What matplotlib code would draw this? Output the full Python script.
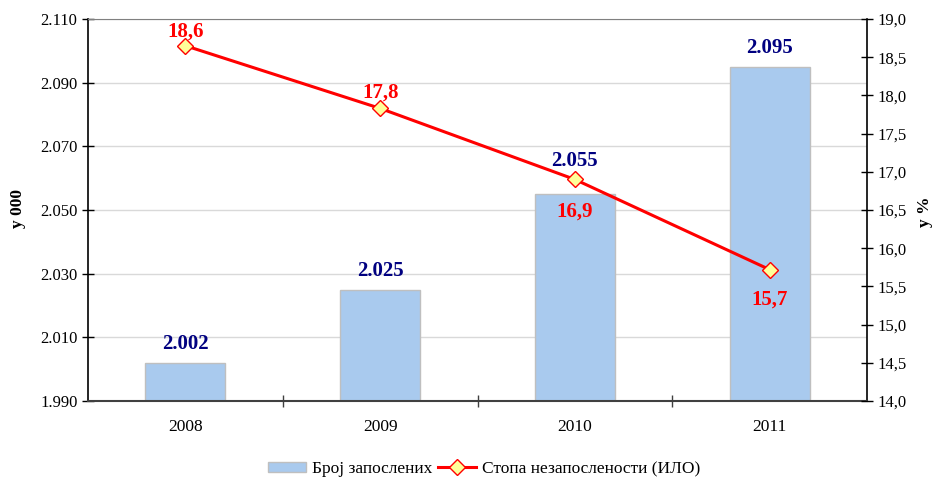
import matplotlib
matplotlib.use("Agg")
import matplotlib.pyplot as plt
from matplotlib.ticker import FixedLocator, FuncFormatter

years = ["2008", "2009", "2010", "2011"]
employed = [2002, 2025, 2055, 2095]
employed_labels = ["2.002", "2.025", "2.055", "2.095"]
employed_label_offsets = [13.5, 13.5, 24, 13.5]
unemp_rate = [18.65, 17.83, 16.90, 15.72]
unemp_labels = ["18,6", "17,8", "16,9", "15,7"]
unemp_label_offsets = [10, 11.5, -23, -21.5]

left_ticks = [1990, 2010, 2030, 2050, 2070, 2090, 2110]
right_ticks = [14.0, 14.5, 15.0, 15.5, 16.0, 16.5, 17.0, 17.5, 18.0, 18.5, 19.0]

plt.rcParams['font.family'] = ['Liberation Serif', 'DejaVu Serif']

fig = plt.figure(figsize=(9.36, 4.83), dpi=100)
ax = fig.add_axes([88/936, 1-401/483, (867-88)/936, (401-19)/483])
ax2 = ax.twinx()

x = list(range(len(years)))
ax.bar(x, employed, width=0.41, bottom=0, color="#A9CAEE", edgecolor="#BFBFBF",
       linewidth=1, label="Број запослених", zorder=2)
ax.set_ylim(1990, 2110)
ax.set_xlim(-0.5, len(years) - 0.5)
ax.yaxis.set_major_locator(FixedLocator(left_ticks))
ax.yaxis.set_major_formatter(FuncFormatter(lambda v, p: f"{int(v):,}".replace(",", ".")))
ax.grid(axis='y', color="#D9D9D9", linewidth=1, zorder=0)
ax.set_axisbelow(True)

ax.set_xticks([i + 0.5 for i in range(len(years) - 1)])
ax.set_xticklabels([])
ax.set_xticks(x, minor=True)
ax.set_xticklabels(years, minor=True)
ax.tick_params(axis='x', which='major', direction='inout', length=9, width=1, color="#404040")
ax.tick_params(axis='x', which='minor', length=0, pad=13, labelsize=12.5)
ax.tick_params(axis='y', direction='inout', length=9, width=1, labelsize=12, pad=3)

ax.spines['top'].set_color("#808080")
ax.spines['bottom'].set_color("#404040")
ax.spines['bottom'].set_linewidth(1.5)
ax.spines['left'].set_linewidth(1.2)
ax.spines['right'].set_linewidth(1.2)

for xi, v, lab, off in zip(x, employed, employed_labels, employed_label_offsets):
    ax.annotate(lab, (xi, v), xytext=(0, off), textcoords='offset points',
                ha='center', va='center', fontsize=15, fontweight='bold', color="#000080")

ax2.plot(x, unemp_rate, color="#FF0000", linewidth=2.2, marker='D', markersize=8.5,
         markerfacecolor="#FFFF99", markeredgecolor="#FF0000", markeredgewidth=1,
         label="Стопа незапослености (ИЛО)", zorder=5)
ax2.set_ylim(14, 19)
ax2.yaxis.set_major_locator(FixedLocator(right_ticks))
ax2.yaxis.set_major_formatter(FuncFormatter(lambda v, p: f"{v:.1f}".replace(".", ",")))
ax2.tick_params(axis='y', direction='inout', length=9, width=1, labelsize=12, pad=3)
for sp in ax2.spines.values():
    sp.set_visible(False)

for xi, v, lab, off in zip(x, unemp_rate, unemp_labels, unemp_label_offsets):
    ax2.annotate(lab, (xi, v), xytext=(0, off), textcoords='offset points',
                 ha='center', va='center', fontsize=15, fontweight='bold', color="#FF0000")

ax.set_zorder(1)
ax2.set_zorder(2)
ax2.patch.set_visible(False)

fig.text(18/936, 1-208/483, "у 000", rotation=90, ha='center', va='center',
         fontsize=12.5, fontweight='bold')
fig.text(925/936, 1-212/483, "у %", rotation=90, ha='center', va='center',
         fontsize=12.5, fontweight='bold')

h1, l1 = ax.get_legend_handles_labels()
h2, l2 = ax2.get_legend_handles_labels()
fig.legend(h1 + h2, l1 + l2, loc='center', bbox_to_anchor=(484/936, 1-469/483),
           ncol=2, frameon=False, fontsize=12.5, handlelength=2.2, handleheight=0.5,
           columnspacing=0.3, handletextpad=0.35)

fig.savefig("out.png", dpi=100)
